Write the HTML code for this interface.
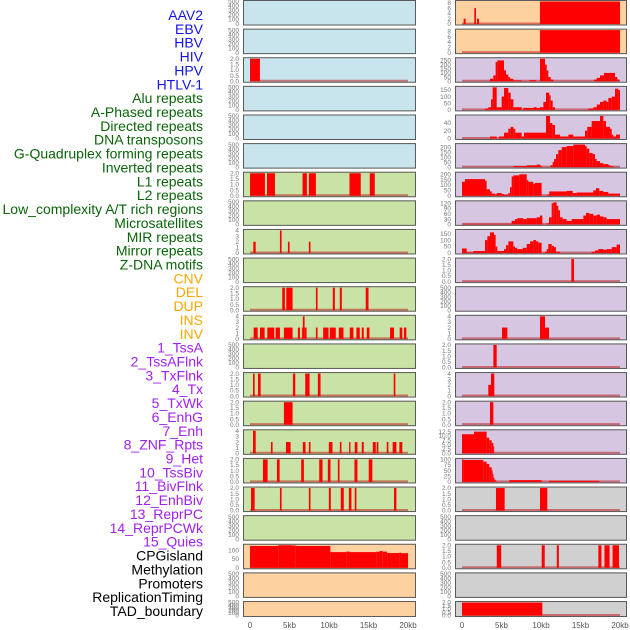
<!DOCTYPE html>
<html><head><meta charset="utf-8"><style>
body{margin:0;background:#fff;width:630px;height:630px;overflow:hidden}
svg{display:block}
</style></head><body>
<svg id="chart" width="630" height="630" xmlns="http://www.w3.org/2000/svg" font-family="Liberation Sans, sans-serif"></svg>
<script>
const labels=["AAV2","EBV","HBV","HIV","HPV","HTLV-1","Alu repeats","A-Phased repeats","Directed repeats","DNA transposons","G-Quadruplex forming repeats","Inverted repeats","L1 repeats","L2 repeats","Low_complexity A/T rich regions","Microsatellites","MIR repeats","Mirror repeats","Z-DNA motifs","CNV","DEL","DUP","INS","INV","1_TssA","2_TssAFlnk","3_TxFlnk","4_Tx","5_TxWk","6_EnhG","7_Enh","8_ZNF_Rpts","9_Het","10_TssBiv","11_BivFlnk","12_EnhBiv","13_ReprPC","14_ReprPCWk","15_Quies","CPGisland","Methylation","Promoters","ReplicationTiming","TAD_boundary"];
const labelGroups=[6,13,5,15,5];
const groupColors=["#1414e6","#0a640a","#ffa500","#a020f0","#000000"];
const xTickKb=[0,5,10,15,20];
const xTickText=["0","5kb","10kb","15kb","20kb"];
const E=[0,100,200,300,400,500], T2=[0,0.5,1,1.5,2], T4=[0,1,2,3,4];
const leftTicks=[E,E,T2,E,E,E,T2,E,T4,E,T2,T4,E,T2,T2,T4,T2,T2,E,[0,50,100],E,E];
const leftYmax=[500,500,2,500,500,500,2,500,4,500,2,4,500,2,2,4,2,2,500,128,500,500];
const rightTicks=[[0,2,4,6,8],[0,2,4,6,8],[0,50,100,150,200,250],[0,50,100,150],[0,20,40],[0,50,100,150,200],[0,50,100,150,200],[0,30,60,90,120],[0,50,100,150],T2,E,T4,T2,T4,T2,[0,2.5,5,7.5,10,12.5],[0,25,50,75,100],T2,E,T2,E,T2];
const rightYmax=[8.5,8.5,270,170,58,225,210,128,175,2,500,4,2,4,2,13,100,2,500,2,500,2];
const leftBg=["#c8e4ec","#c8e4ec","#c8e4ec","#c8e4ec","#c8e4ec","#c8e4ec","#c9e2a5","#c9e2a5","#c9e2a5","#c9e2a5","#c9e2a5","#c9e2a5","#c9e2a5","#c9e2a5","#c9e2a5","#c9e2a5","#c9e2a5","#c9e2a5","#c9e2a5","#fdd1a0","#fdd1a0","#fdd1a0"];
const rightBg=["#fdd1a0","#fdd1a0","#d6c6e2","#d6c6e2","#d6c6e2","#d6c6e2","#d6c6e2","#d6c6e2","#d6c6e2","#d6c6e2","#d6c6e2","#d6c6e2","#d6c6e2","#d6c6e2","#d6c6e2","#d6c6e2","#d6c6e2","#d0d0d0","#d0d0d0","#d0d0d0","#d0d0d0","#d0d0d0"];
// segments [startKb, endKb, value]
const leftSegs=[[],[],[[0,1.26,2]],[],[],[],
[[0,1.89,2],[2.15,3.16,2],[6.65,7.2,2],[7.45,8.34,2],[12.59,14.02,2],[15.16,15.79,2]],
[],
[[0.42,0.72,2],[3.79,4.0,4],[4.8,5.01,2],[7.45,7.66,2]],
[],
[[4.08,4.42,2],[4.59,5.39,2],[8.34,8.55,2],[10.48,10.74,2],[11.37,11.62,2],[14.65,15.0,2]],
[[0.46,0.97,2],[1.26,1.85,2],[2.19,3.07,2],[3.24,3.79,2],[4.29,5.39,2],[6.06,6.32,2],[6.57,6.69,2],[6.69,6.91,4],[6.91,7.16,2],[8.34,8.55,2],[9.26,9.94,2],[10.1,10.86,2],[11.24,11.83,2],[12.63,13.09,2],[13.47,13.89,2],[14.15,14.4,2],[14.78,15.12,2],[17.73,18.23,2],[18.95,19.28,2],[19.49,19.79,2]],
[],
[[0.38,0.59,2],[1.01,1.35,2],[5.43,5.73,2],[6.99,7.54,2],[8.59,8.93,2],[18.19,18.4,2]],
[[4.29,5.39,2]],
[[0.38,0.72,4],[2.65,2.86,2],[4.55,5.14,2],[6.69,7.03,2],[7.45,7.66,2],[9.98,10.44,2],[11.37,11.58,2],[12.55,12.72,2],[13.26,13.6,2],[14.15,14.4,2],[15.54,15.92,2],[16.04,16.25,2],[17.31,17.52,2],[18.06,18.53,2],[18.91,19.28,2]],
[[1.64,2.23,2],[3.41,3.75,2],[6.48,6.82,2],[8.76,9.18,2],[9.85,10.19,2],[11.12,11.33,2],[13.22,13.6,2],[15.03,15.49,2]],
[[0.13,0.59,2],[3.79,4.0,2],[7.45,7.66,2],[9.98,10.23,2],[11.49,11.87,2],[12.51,12.84,2],[13.26,13.47,2],[18.23,18.53,2]],
[],
[[0,3.57,124],[3.57,4.62,128],[4.62,5.25,129],[5.25,5.8,127],[5.8,10.17,124],[10.17,12.18,89],[12.18,12.6,92],[12.6,15.97,89],[15.97,16.39,91],[16.39,16.8,95],[16.8,17.35,92],[17.35,18.91,84],[18.91,19.12,86],[19.12,20,83]],
[],[]];
const rightSegs=[
[[0.21,0.46,2],[1.56,1.77,6],[1.9,2.15,2],[9.87,20,10]],
[[9.87,20,10]],
[[3.54,3.97,30],[3.97,4.26,70],[4.26,4.47,230],[4.47,5.32,250],[5.32,5.57,130],[5.57,5.86,80],[5.86,6.08,50],[6.08,6.5,30],[6.5,7.55,10],[8.52,9.37,12],[9.87,10.51,270],[10.51,10.72,200],[10.72,10.93,130],[10.93,11.22,50],[11.22,11.56,20],[16.71,17.05,20],[17.05,17.47,40],[17.47,17.97,70],[17.97,19.37,100],[19.37,19.66,50],[19.66,19.92,20]],
[[2.91,3.33,10],[3.33,3.67,20],[3.67,3.88,80],[3.88,4.39,170],[4.39,4.6,20],[4.6,5.02,20],[5.02,5.32,100],[5.32,5.86,165],[5.86,6.16,130],[6.16,6.5,80],[6.5,6.75,20],[6.75,7.55,20],[7.76,9.11,15],[9.11,9.45,20],[9.45,9.87,15],[9.87,10.3,20],[10.3,10.63,60],[10.63,11.05,130],[11.05,11.22,110],[11.22,11.48,70],[11.48,11.77,20],[15.99,16.62,10],[16.62,17.05,20],[17.05,17.47,40],[17.47,17.89,60],[17.89,18.31,70],[18.31,18.52,60],[18.52,18.95,90],[18.95,19.37,100],[19.37,19.79,160],[19.79,20,150]],
[[3.54,4.39,5],[4.68,5.32,5],[5.32,5.86,15],[5.86,6.16,25],[6.16,6.5,30],[6.5,6.75,25],[6.75,7.55,15],[7.55,7.85,5],[7.85,10.63,15],[10.63,11.14,58],[11.14,11.43,40],[11.43,11.77,35],[11.77,12.41,10],[12.41,13.46,5],[13.46,14.09,10],[14.09,15.57,5],[15.57,15.86,20],[15.86,16.41,30],[16.41,17.47,45],[17.47,17.89,58],[17.89,18.23,45],[18.23,18.73,30],[18.73,18.95,25],[18.95,19.16,10],[19.16,19.49,5],[19.49,20,10]],
[[6.5,8.19,10],[8.19,9.45,18],[9.45,9.87,25],[9.87,10.08,15],[11.22,11.48,20],[11.48,11.65,50],[11.65,11.9,80],[11.9,12.19,130],[12.19,12.62,170],[12.62,13.25,200],[13.25,14.09,210],[14.09,15.57,225],[15.57,15.78,210],[15.78,16.12,185],[16.12,16.54,140],[16.54,16.84,130],[16.84,17.05,80],[17.05,17.47,60],[17.47,17.89,40],[17.89,18.52,30],[18.52,18.73,20],[18.73,19.16,10]],
[[0,0.38,130],[0.38,2.91,155],[2.91,3.12,140],[3.12,3.54,60],[3.54,3.76,40],[3.76,4.18,20],[4.18,4.39,10],[4.39,5.02,25],[5.02,5.32,15],[5.32,5.86,10],[5.86,6.08,25],[6.08,6.29,80],[6.29,6.5,180],[6.5,7.26,190],[7.26,8.19,200],[8.19,8.4,145],[8.4,9.03,130],[9.03,9.24,110],[9.24,10.08,120],[10.8,11.05,10],[11.05,13.25,40],[13.25,14.01,45],[14.01,14.51,25],[14.51,16.62,30],[16.62,16.96,50],[16.96,17.38,70],[17.38,17.89,45],[17.89,18.52,35],[18.52,20,20]],
[[0,6.29,3],[6.29,6.71,20],[6.71,7.0,30],[7.0,7.76,35],[7.76,8.19,30],[8.19,9.45,35],[9.45,9.87,40],[9.87,10.17,50],[10.72,11.01,5],[11.01,11.35,40],[11.35,11.56,120],[11.56,11.98,125],[11.98,12.19,105],[12.19,12.41,80],[12.41,12.74,40],[12.74,13.25,30],[13.25,13.88,20],[13.88,15.36,30],[15.36,15.7,50],[15.7,16.12,65],[16.12,16.62,60],[16.62,17.05,50],[17.05,17.47,55],[17.47,17.89,45],[17.89,18.31,40],[18.31,20,30]],
[[0,0.59,35],[0.59,1.43,5],[1.43,2.91,15],[2.91,3.21,100],[3.21,3.54,130],[3.54,4.05,160],[4.05,4.26,140],[4.26,4.47,50],[4.47,5.32,15],[5.32,5.57,30],[5.57,5.86,60],[5.86,6.5,90],[6.5,6.71,50],[6.71,7.0,40],[7.0,7.68,30],[7.68,8.19,40],[8.19,8.61,70],[8.61,9.03,90],[9.03,9.37,100],[9.37,9.66,90],[9.66,10.08,80],[10.51,10.72,10],[10.72,10.93,30],[10.93,11.35,70],[11.35,11.65,55],[11.65,11.9,45],[11.9,12.41,10],[16.41,16.84,10],[16.84,17.26,20],[17.26,17.89,30],[17.89,18.31,25],[18.31,18.95,30],[18.95,19.58,45],[19.58,20,65]],
[[13.84,14.18,2]],
[],
[[5.06,5.74,2],[9.87,10.51,4],[10.51,11.01,2]],
[[3.97,4.39,2]],
[[3.33,3.67,2],[3.67,4.09,4]],
[[3.54,3.97,2]],
[[0,1.52,11],[1.52,3.12,12.5],[3.12,3.46,9],[3.46,3.76,7.5],[3.76,3.97,6],[3.97,4.05,4]],
[[0,0.17,100],[0.17,2.7,98],[2.7,3.12,90],[3.12,3.46,80],[3.46,3.76,65],[3.76,3.88,50],[3.88,3.97,35],[3.97,4.09,20],[4.09,4.26,10],[4.26,4.39,3],[5.99,10.08,8],[11.01,17.38,5]],
[[4.3,5.4,2],[9.87,10.8,2]],
[],
[[4.4,4.96,2],[10.09,10.47,2],[12.0,12.26,2],[17.26,17.65,2],[18.03,18.68,2],[19.06,19.87,2]],
[],
[[0,10.17,2]]];

const svg=document.getElementById('chart');
const NS='http://www.w3.org/2000/svg';
function mk(tag,attrs,parent){const e=document.createElementNS(NS,tag);for(const k in attrs)e.setAttribute(k,attrs[k]);(parent||svg).appendChild(e);return e;}
const PITCH=28.62, PH=25.5;
const panels=[{x0:243,x1:416,zero:250,ticks:leftTicks,ymax:leftYmax,bg:leftBg,segs:leftSegs,tx:239,side:'left'},
              {x0:455,x1:627,zero:462,ticks:rightTicks,ymax:rightYmax,bg:rightBg,segs:rightSegs,tx:451,side:'right'}];
const KB=7.9;
let li=0;
labelGroups.forEach((n,g)=>{for(let k=0;k<n;k++){const t=mk('text',{x:203,y:15+li*13.86+5,'text-anchor':'end','font-size':'14',fill:groupColors[g]});


t.textContent=labels[li];li++;}});
panels.forEach(p=>{
  const xs=kb=>p.zero+kb*KB;
  for(let r=0;r<22;r++){
    const top=r*PITCH, h=(r===21)?16:PH, bot=top+h;
    const g=mk('g',{});
    
    
    mk('rect',{x:p.x0,y:top,width:p.x1-p.x0,height:h,fill:p.bg[r]},g);
    const y0=bot-1.5, yTop=top+1.5;
    const ys=v=>y0-(Math.min(v,p.ymax[r])/p.ymax[r])*(y0-yTop);
    const ticks=p.ticks[r];
    const dec=ticks.some(t=>t%1!==0)?1:0;
    ticks.forEach(t=>{const tt=mk('text',{x:p.tx,y:ys(t)+2.2,'text-anchor':'end','font-size':'6.5',fill:'#777'},g);
      
      
      tt.textContent=t.toFixed(dec);});
    const segs=p.segs[r];
    if(segs.length){
      const bl=mk('line',{x1:xs(0),x2:xs(20),y1:y0-0.5,y2:y0-0.5,stroke:'rgba(190,30,30,0.55)','stroke-width':2},g);
      
      
    }
    segs.forEach(s=>{const b=mk('rect',{x:xs(s[0]),y:ys(s[2]),width:Math.max(0.8,xs(s[1])-xs(s[0])),height:y0-ys(s[2]),fill:'#ff0000'},g);
      
      });
    mk('rect',{x:p.x0+0.5,y:top+0.5,width:p.x1-p.x0-1,height:h-1,fill:'none',stroke:'#5a5a5a','stroke-width':1},g);
  }
  xTickKb.forEach((k,i)=>{const t=mk('text',{x:xs(k),y:628,'text-anchor':'middle','font-size':'8',fill:'#555'});
    
    
    t.textContent=xTickText[i];});
});
</script>
</body></html>
